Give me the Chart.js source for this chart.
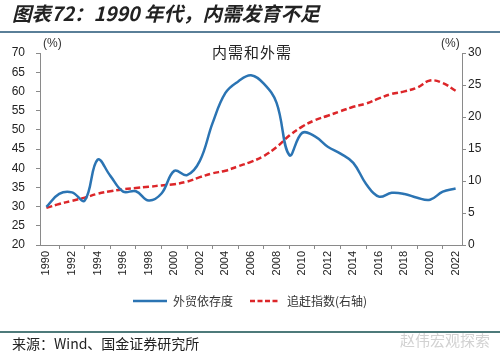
<!DOCTYPE html>
<html>
<head>
<meta charset="utf-8">
<script src="https://cdn.jsdelivr.net/npm/chart.js@4.4.1/dist/chart.umd.min.js"></script>
<style>
  html, body { margin: 0; padding: 0; background: #fff; }
  #wrap { position: relative; width: 500px; height: 357px; overflow: hidden; background: #fff; }
  #c { position: absolute; left: 0; top: 0; }
  .t { position: absolute; white-space: nowrap; font-family: "Noto Sans CJK SC", sans-serif; }
  #title { left: 12px; top: 1px; font-size: 19.5px; font-weight: bold; font-style: italic; color: #222; line-height: 24px; }
  #topline { position: absolute; left: 0; top: 31px; width: 500px; height: 2px; background: #5a7f98; }
  #botline { position: absolute; left: 0; top: 331px; width: 500px; height: 2px; background: #4e7a7a; }
  #source { left: 12px; top: 333px; font-size: 14px; color: #222; letter-spacing: 0px; line-height: 20px; }
  #wm { left: 400px; top: 331px; font-size: 15px; color: #d2d2d2; line-height: 18px; }
  #inner { left: 212px; top: 43px; font-size: 15px; color: #222; letter-spacing: 1px; line-height: 18px; }
  .pct { top: 36px; font-size: 12px; color: #333; font-family: "Liberation Sans", Arial, sans-serif; line-height: 14px; }
</style>
</head>
<body>
<div id="wrap">
  <canvas id="c" width="500" height="357"></canvas>
  <div id="title" class="t">图表72：1990 年代，内需发育不足</div>
  <div id="topline"></div>
  <div id="inner" class="t">内需和外需</div>
  <div class="t pct" style="left:43px;">(%)</div>
  <div class="t pct" style="left:441px;">(%)</div>
  <div id="botline"></div>
  <div id="source" class="t">来源：Wind、国金证券研究所</div>
  <div id="wm" class="t">赵伟宏观探索</div>
</div>
<script>
const years = ['1990','1991','1992','1993','1994','1995','1996','1997','1998','1999','2000','2001','2002','2003','2004','2005','2006','2007','2008','2009','2010','2011','2012','2013','2014','2015','2016','2017','2018','2019','2020','2021','2022'];
const tradeDependence = [29.9, 33.3, 33.7, 31.6, 42.2, 38.0, 33.9, 34.0, 31.6, 33.4, 39.3, 38.2, 41.9, 51.8, 59.6, 62.6, 64.2, 62.0, 57.0, 43.4, 49.2, 48.3, 45.6, 43.8, 41.4, 35.9, 32.6, 33.6, 33.3, 32.3, 31.8, 33.9, 34.7];
const catchUpIndex = [5.8, 6.4, 6.9, 7.4, 8.0, 8.4, 8.7, 8.9, 9.1, 9.3, 9.5, 9.9, 10.6, 11.2, 11.6, 12.3, 13.0, 13.9, 15.3, 17.1, 18.5, 19.5, 20.2, 20.9, 21.6, 22.1, 22.9, 23.6, 24.0, 24.6, 25.7, 25.3, 24.1];
const leftTicks = { min: 20, max: 70, step: 5 };
const rightTicks = { min: 0, max: 30, step: 5 };
const seriesNames = ['外贸依存度', '追赶指数(右轴)'];

const BLUE = '#2b74b3';
const RED = '#dc2629';
const AXIS = '#8a8a8a';

function legendLine(color, width, dash) {
  const cv = document.createElement('canvas');
  cv.width = width; cv.height = 4;
  const g = cv.getContext('2d');
  g.strokeStyle = color; g.lineWidth = 2.5;
  if (dash) g.setLineDash(dash);
  g.beginPath(); g.moveTo(0, 2); g.lineTo(width, 2); g.stroke();
  return cv;
}
const blueIcon = legendLine(BLUE, 34, null);
const redIcon = legendLine(RED, 28, [5, 2.5]);

const tickFont = { family: '"Liberation Sans", Arial, sans-serif', size: 12 };

new Chart(document.getElementById('c'), {
  type: 'line',
  data: {
    labels: years,
    datasets: [
      { label: seriesNames[0], data: tradeDependence, yAxisID: 'y', borderColor: BLUE, backgroundColor: BLUE,
        borderWidth: 2.5, pointRadius: 0, tension: 0.4, fill: false, pointStyle: blueIcon },
      { label: seriesNames[1], data: catchUpIndex, yAxisID: 'y1', borderColor: RED, backgroundColor: RED,
        borderWidth: 2.5, borderDash: [6, 3], pointRadius: 0, tension: 0.4, fill: false, pointStyle: redIcon }
    ]
  },
  options: {
    responsive: false,
    animation: false,
    devicePixelRatio: 1,
    layout: { padding: { top: 53, left: 0, right: 0, bottom: 40 } },
    plugins: {
      title: { display: false },
      tooltip: { enabled: false },
      legend: {
        display: true,
        position: 'bottom',
        labels: {
          usePointStyle: true,
          pointStyleWidth: 34,
          boxHeight: 12,
          padding: 14,
          color: '#333',
          font: { family: '"Noto Sans CJK SC", sans-serif', size: 12 }
        }
      }
    },
    scales: {
      x: {
        type: 'category',
        offset: true,
        grid: { display: true, drawOnChartArea: false, drawTicks: true, tickLength: 4, color: AXIS, offset: true },
        border: { display: true, color: AXIS, width: 1 },
        ticks: {
          autoSkip: false, maxRotation: 90, minRotation: 90, padding: 2, color: '#222',
          font: { family: '"Liberation Sans", Arial, sans-serif', size: 11 },
          callback: function(v, i) { return i % 2 === 0 ? years[i] : null; }
        },
        afterFit: function(s) { s.height = 36; }
      },
      y: {
        position: 'left',
        min: leftTicks.min, max: leftTicks.max,
        grid: { display: true, drawOnChartArea: false, drawTicks: true, tickLength: 4, color: AXIS },
        border: { display: true, color: AXIS, width: 1 },
        ticks: { stepSize: leftTicks.step, padding: 11, color: '#222', font: tickFont },
        afterFit: function(s) { s.width = 40; }
      },
      y1: {
        position: 'right',
        min: rightTicks.min, max: rightTicks.max,
        grid: { display: true, drawOnChartArea: false, drawTicks: true, tickLength: 4, color: AXIS },
        border: { display: true, color: AXIS, width: 1 },
        ticks: { stepSize: rightTicks.step, padding: 2, color: '#222', font: tickFont },
        afterFit: function(s) { s.width = 38; }
      }
    }
  }
});
</script>
</body>
</html>
